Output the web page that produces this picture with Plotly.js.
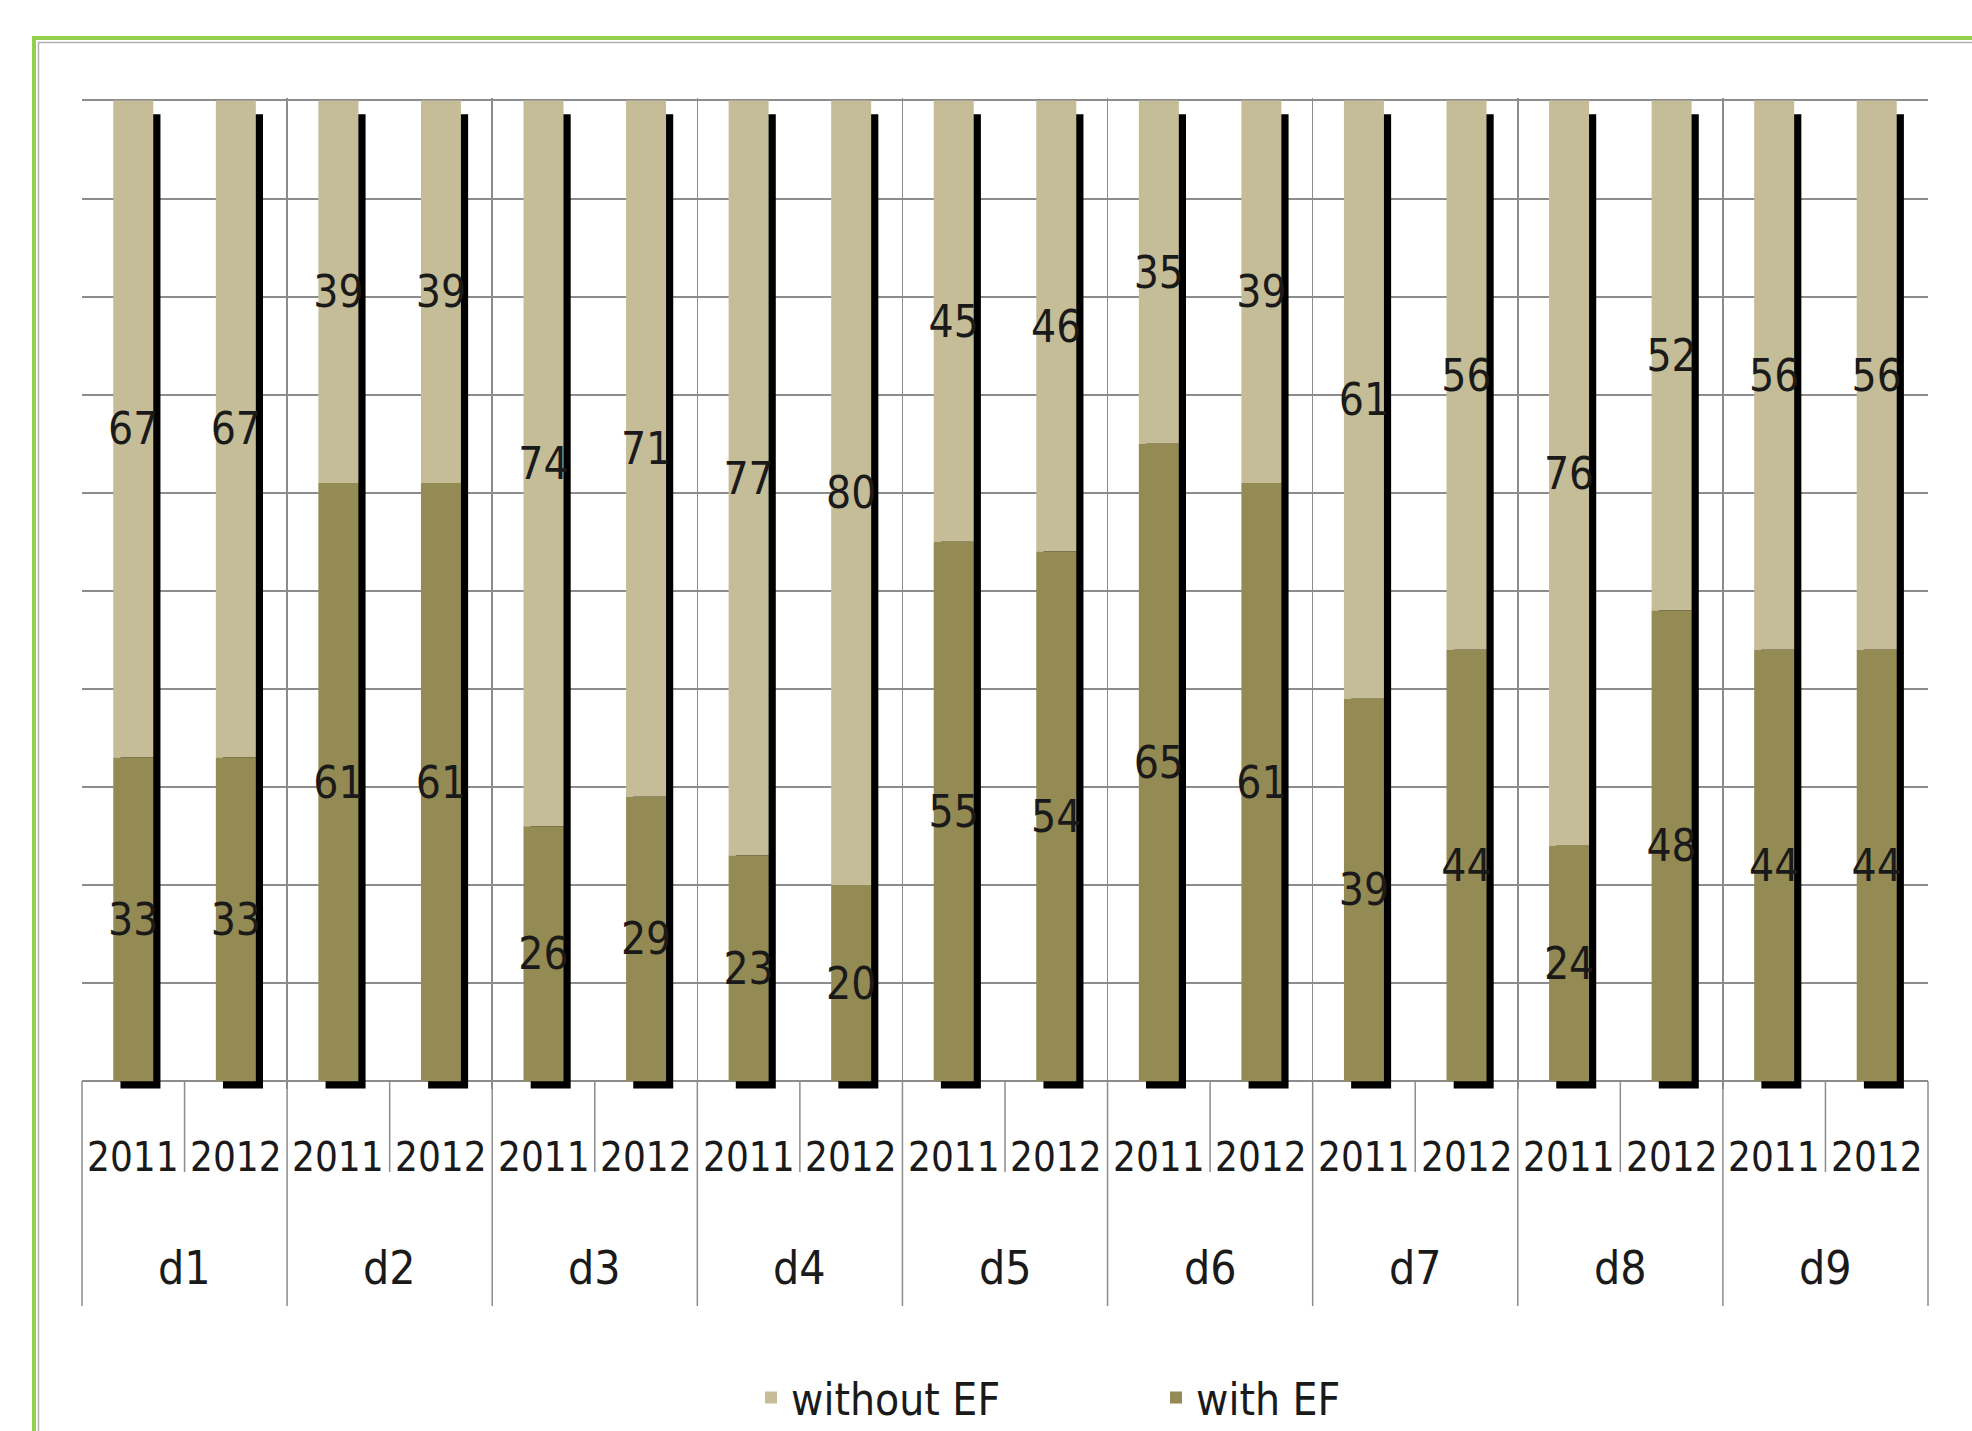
<!DOCTYPE html>
<html>
<head>
<meta charset="utf-8">
<script src="https://cdn.plot.ly/plotly-3.0.1.min.js"></script>
<style>
  html, body { margin: 0; padding: 0; background: #ffffff; }
  #chart { width: 1972px; height: 1431px; }
</style>
</head>
<body>
<div id="chart"></div>
<script>
// ---- data ----
const districts = ["d1", "d2", "d3", "d4", "d5", "d6", "d7", "d8", "d9"];
const years = ["2011", "2012"];
const withEF    = [33, 33, 61, 61, 26, 29, 23, 20, 55, 54, 65, 61, 39, 44, 24, 48, 44, 44];
const withoutEF = [67, 67, 39, 39, 74, 71, 77, 80, 45, 46, 35, 39, 61, 56, 76, 52, 56, 56];
const seriesNames = ["without EF", "with EF"];

// ---- style ----
const FONT = "'Liberation Sans Narrow', 'DejaVu Sans Condensed', 'Arial Narrow', sans-serif";
const COL_WITHOUT = "#C4BD97";
const COL_WITH = "#948A54";
const GRID = "#8c8c8c";
const BAR_W = 0.39;
const SHADOW_DX = 0.07;     // shadow shift to the right (category units)
const SHADOW_BASE = -0.75;  // shadow drops below axis
const SHADOW_DROP = 1.4;    // shadow top lower than bar top

const n = withEF.length;
const idx = withEF.map((_, i) => i);
const totals = withEF.map((v, i) => v + withoutEF[i]);

const shadow = {
  type: "bar", x: idx,
  y: totals.map(t => t - SHADOW_DROP - SHADOW_BASE),
  base: SHADOW_BASE,
  width: BAR_W, offset: -BAR_W / 2 + SHADOW_DX,
  marker: { color: "#000000", line: { width: 0 } },
  showlegend: false, hoverinfo: "skip"
};
const textCommon = {
  textposition: "inside", insidetextanchor: "middle",
  constraintext: "none", textangle: 0, cliponaxis: false,
  insidetextfont: { family: FONT, size: 44, color: "#1a1a1a" },
  hoverinfo: "skip"
};
const traceWithout = Object.assign({
  type: "bar", name: seriesNames[0], x: idx, y: withoutEF, base: withEF,
  width: BAR_W, offset: -BAR_W / 2,
  text: withoutEF.map(String),
  marker: { color: COL_WITHOUT, line: { width: 0 } }
}, textCommon);
const traceWith = Object.assign({
  type: "bar", name: seriesNames[1], x: idx, y: withEF, base: 0,
  width: BAR_W, offset: -BAR_W / 2,
  text: withEF.map(String),
  marker: { color: COL_WITH, line: { width: 0 } }
}, textCommon);

// plot geometry helpers (paper coords)
const M = { l: 82, r: 44, t: 98, b: 342 };
const H = 1431, W = 1972;
const Y_MIN = -0.8, Y_MAX = 100.25;
const plotH = H - M.t - M.b, plotW = W - M.l - M.r;
const plotBottomPx = H - M.b;
const py = px => (plotBottomPx - px) / plotH;
const pxX = px => (px - M.l) / plotW;
const yAxisPaper = (0 - Y_MIN) / (Y_MAX - Y_MIN);

const shapes = [];
// chart border (green + inner grey)
shapes.push({ type: "rect", xref: "paper", yref: "paper", layer: "below",
  x0: pxX(34), x1: pxX(2010), y0: py(38), y1: py(1470),
  line: { color: "#92D050", width: 4 }, fillcolor: "rgba(0,0,0,0)" });
shapes.push({ type: "rect", xref: "paper", yref: "paper", layer: "below",
  x0: pxX(38.5), x1: pxX(2010), y0: py(42.5), y1: py(1470),
  line: { color: "#b0b0b0", width: 1.5 }, fillcolor: "rgba(0,0,0,0)" });
// sub-dividers between years
for (let g = 0; g < districts.length; g++) {
  const xp = (2 * g + 1) / n;
  shapes.push({ type: "line", xref: "paper", yref: "paper", x0: xp, x1: xp,
    y0: yAxisPaper, y1: py(1172), line: { color: GRID, width: 1.5 } });
}
// group dividers
for (let g = 0; g <= districts.length; g++) {
  const xp = (2 * g) / n;
  shapes.push({ type: "line", xref: "paper", yref: "paper", x0: xp, x1: xp,
    y0: yAxisPaper, y1: py(1306), line: { color: GRID, width: 1.5 } });
}

const annotations = [];
idx.forEach(i => {
  annotations.push({ x: i, xref: "x", y: py(1157), yref: "paper", yanchor: "middle",
    text: years[i % 2], showarrow: false, font: { family: FONT, size: 40, color: "#1a1a1a" } });
});
districts.forEach((d, g) => {
  annotations.push({ x: 2 * g + 0.5, xref: "x", y: py(1268), yref: "paper", yanchor: "middle",
    text: d, showarrow: false, font: { family: FONT, size: 46, color: "#1a1a1a" } });
});

const boundaries = [];
for (let g = 1; g < districts.length; g++) boundaries.push(2 * g - 0.5);
const yTicks = [];
for (let v = 0; v <= 100; v += 10) yTicks.push(v);

const layout = {
  width: W, height: H,
  margin: { l: M.l, r: M.r, t: M.t, b: M.b, autoexpand: false },
  paper_bgcolor: "#ffffff", plot_bgcolor: "#ffffff",
  barmode: "overlay",
  showlegend: true,
  font: { family: FONT, color: "#1a1a1a" },
  xaxis: {
    type: "linear", range: [-0.5, n - 0.5], fixedrange: true,
    tickmode: "array", tickvals: boundaries, showticklabels: false, ticks: "",
    showgrid: true, gridcolor: GRID, gridwidth: 1.5, zeroline: false, showline: false
  },
  yaxis: {
    range: [Y_MIN, Y_MAX], fixedrange: true,
    tickmode: "array", tickvals: yTicks, showticklabels: false, ticks: "",
    showgrid: true, gridcolor: GRID, gridwidth: 2, zeroline: false, showline: false
  },
  legend: {
    orientation: "h", x: pxX(751), xanchor: "left", y: py(1398), yanchor: "middle",
    entrywidth: 360, entrywidthmode: "pixels", traceorder: "normal",
    font: { family: FONT, size: 44, color: "#1a1a1a" },
    bgcolor: "rgba(0,0,0,0)", borderwidth: 0
  },
  shapes: shapes,
  annotations: annotations
};

Plotly.newPlot("chart", [shadow, traceWithout, traceWith], layout,
  { staticPlot: true, displayModeBar: false });
</script>
</body>
</html>
